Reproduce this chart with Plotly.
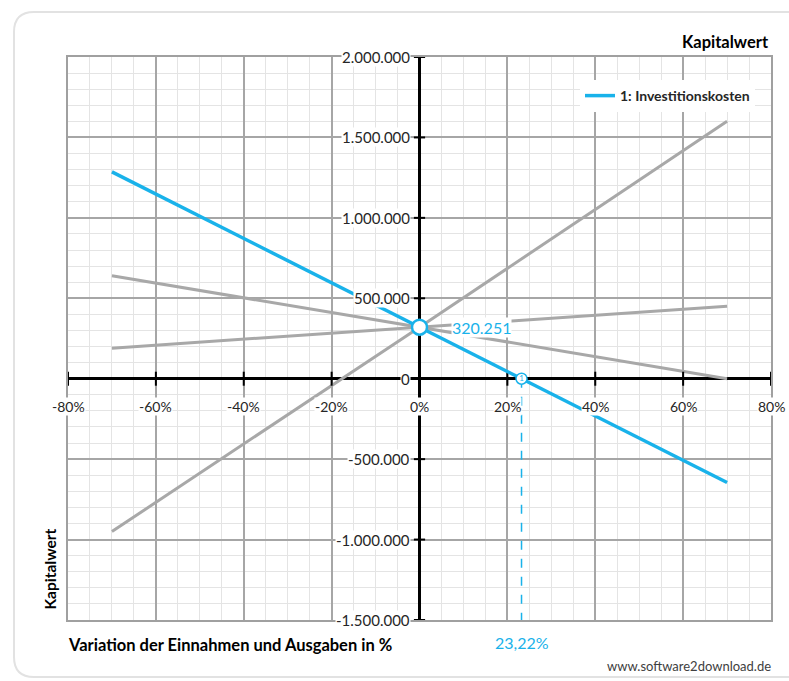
import plotly.graph_objects as go

# Sensitivity of the net present value (Kapitalwert) to a variation of
# income and expenses in percent
variation = [-70, 0, 70]
invest_costs = [1285700, 320251, -645200]        # 1: Investitionskosten
other_series = {
    "Einnahmen": [-950000, 320251, 1600000],
    "Ausgaben": [640000, 320251, 0],
    "Zinssatz": [190000, 320251, 450000],
}
base_value = 320251
base_label = "320.251"
break_even = 23.22
break_even_label = "23,22%"

x_ticks = [-80, -60, -40, -20, 0, 20, 40, 60, 80]
x_tick_labels = ["-80%", "-60%", "-40%", "-20%", "0%", "20%", "40%", "60%", "80%"]
y_ticks = [-1500000, -1000000, -500000, 0, 500000, 1000000, 1500000, 2000000]
y_tick_labels = ["-1.500.000", "-1.000.000", "-500.000", "0",
                 "500.000", "1.000.000", "1.500.000", "2.000.000"]

X_RANGE = [-80, 80]
Y_RANGE = [-1500000, 2000000]

BLUE = "#19B2EA"
GRAY = "#A8A8A8"
FONT = "Lato"
W, H = 789, 681
M = dict(l=68, r=18, t=57, b=61)

fig = go.Figure()

for name, vals in other_series.items():
    fig.add_trace(go.Scatter(x=variation, y=vals, mode="lines", name=name,
                             line=dict(color=GRAY, width=3), showlegend=False,
                             hoverinfo="skip"))

# axis tick marks on the crossing axes
fig.add_trace(go.Scatter(x=[0] * len(y_ticks), y=y_ticks, mode="markers",
                         marker=dict(symbol="line-ew", size=8,
                                     line=dict(color="black", width=2)),
                         showlegend=False, hoverinfo="skip"))
fig.add_trace(go.Scatter(x=x_ticks, y=[0] * len(x_ticks), mode="markers",
                         marker=dict(symbol="line-ns", size=10,
                                     line=dict(color="black", width=2)),
                         showlegend=False, hoverinfo="skip"))

# break-even drop line
fig.add_trace(go.Scatter(x=[break_even, break_even], y=[0, Y_RANGE[0]],
                         mode="lines", line=dict(color=BLUE, width=1.5, dash="dash"),
                         showlegend=False, hoverinfo="skip"))

fig.add_trace(go.Scatter(x=variation, y=invest_costs, mode="lines",
                         name="1: Investitionskosten",
                         line=dict(color=BLUE, width=3.5)))

fig.add_trace(go.Scatter(x=[0], y=[base_value], mode="markers",
                         marker=dict(size=15, color="white",
                                     line=dict(color=BLUE, width=2.5)),
                         showlegend=False, hoverinfo="skip"))
fig.add_trace(go.Scatter(x=[break_even], y=[0], mode="markers+text", text=["1"],
                         textposition="middle center",
                         textfont=dict(family=FONT, size=8, color=BLUE),
                         marker=dict(size=11, color="white",
                                     line=dict(color=BLUE, width=1.5)),
                         showlegend=False, hoverinfo="skip"))

annotations = []
for v, t in zip(y_ticks, y_tick_labels):
    annotations.append(dict(x=0, y=v, xref="x", yref="y", text=t, showarrow=False,
                            xanchor="right", yanchor="middle", xshift=-9,
                            bgcolor="white", borderpad=0,
                            font=dict(family=FONT, size=15, color="#262626")))
for v, t in zip(x_ticks, x_tick_labels):
    annotations.append(dict(x=v, y=0, xref="x", yref="y", text=t, showarrow=False,
                            xanchor="center", yanchor="top", yshift=-18,
                            bgcolor="white", borderpad=0,
                            font=dict(family=FONT, size=14, color="#262626")))

annotations.append(dict(x=0, y=base_value, xref="x", yref="y", text=base_label,
                        showarrow=False, xanchor="left", yanchor="middle", xshift=31,
                        bgcolor="white", borderpad=0,
                        font=dict(family=FONT, size=16, color=BLUE)))
annotations.append(dict(x=break_even, y=-0.04, xref="x", yref="paper",
                        text=break_even_label, showarrow=False,
                        xanchor="center", yanchor="middle",
                        font=dict(family=FONT, size=16, color=BLUE)))


def px_x(p):
    return (p - M["l"]) / (W - M["l"] - M["r"])


def px_y(p):
    return (H - M["b"] - p) / (H - M["t"] - M["b"])


annotations += [
    dict(x=px_x(771), y=px_y(42), xref="paper", yref="paper", text="<b>Kapitalwert</b>",
         showarrow=False, xanchor="right", yanchor="middle",
         font=dict(family=FONT, size=16.5, color="black")),
    dict(x=0.0, y=px_y(645), xref="paper", yref="paper",
         text="<b>Variation der Einnahmen und Ausgaben in %</b>",
         showarrow=False, xanchor="left", yanchor="middle", xshift=-2,
         font=dict(family=FONT, size=16.5, color="black")),
    dict(x=px_x(49), y=px_y(612), xref="paper", yref="paper", text="<b>Kapitalwert</b>",
         showarrow=False, textangle=-90, xanchor="center", yanchor="bottom",
         font=dict(family=FONT, size=15.5, color="black")),
    dict(x=px_x(773), y=px_y(666), xref="paper", yref="paper",
         text="www.software2download.de", showarrow=False,
         xanchor="right", yanchor="middle",
         font=dict(family=FONT, size=13, color="#404040")),
]

# rounded card frame around the chart
L, R, T, B, r = 14, 800, 12, 677, 20
rx = r / (W - M["l"] - M["r"])
ry = r / (H - M["t"] - M["b"])
x0, x1, y0, y1 = px_x(L), px_x(R), px_y(B), px_y(T)
frame_path = (f"M {x0},{y0 + ry} L {x0},{y1 - ry} Q {x0},{y1} {x0 + rx},{y1} "
              f"L {x1},{y1} L {x1},{y0} L {x0 + rx},{y0} Q {x0},{y0} {x0},{y0 + ry} Z")

fig.update_layout(
    width=W, height=H, margin=M,
    paper_bgcolor="white", plot_bgcolor="white",
    font=dict(family=FONT),
    annotations=annotations,
    shapes=[dict(type="path", path=frame_path, xref="paper", yref="paper",
                 line=dict(color="#E2E2E2", width=2), fillcolor="rgba(0,0,0,0)",
                 layer="below")],
    legend=dict(x=px_x(580), y=px_y(80), xanchor="left", yanchor="top",
                bgcolor="white", borderwidth=0,
                font=dict(family=FONT, size=14, color="#262626", weight="bold"),
                itemwidth=30, tracegroupgap=0),
)

fig.update_xaxes(range=X_RANGE, tickvals=x_ticks, showticklabels=False,
                 showgrid=True, gridcolor="#A6A6A6", gridwidth=1.5,
                 minor=dict(dtick=5, showgrid=True, gridcolor="#E4E4E4", gridwidth=1),
                 zeroline=True, zerolinecolor="black", zerolinewidth=3,
                 showline=True, mirror=True, linecolor="#A0A0A0", linewidth=2,
                 fixedrange=True)
fig.update_yaxes(range=Y_RANGE, tickvals=y_ticks, showticklabels=False,
                 showgrid=True, gridcolor="#A6A6A6", gridwidth=1.5,
                 minor=dict(dtick=100000, showgrid=True, gridcolor="#E4E4E4", gridwidth=1),
                 zeroline=True, zerolinecolor="black", zerolinewidth=3,
                 showline=True, mirror=True, linecolor="#A0A0A0", linewidth=2,
                 fixedrange=True)

fig.write_html("out.html")
